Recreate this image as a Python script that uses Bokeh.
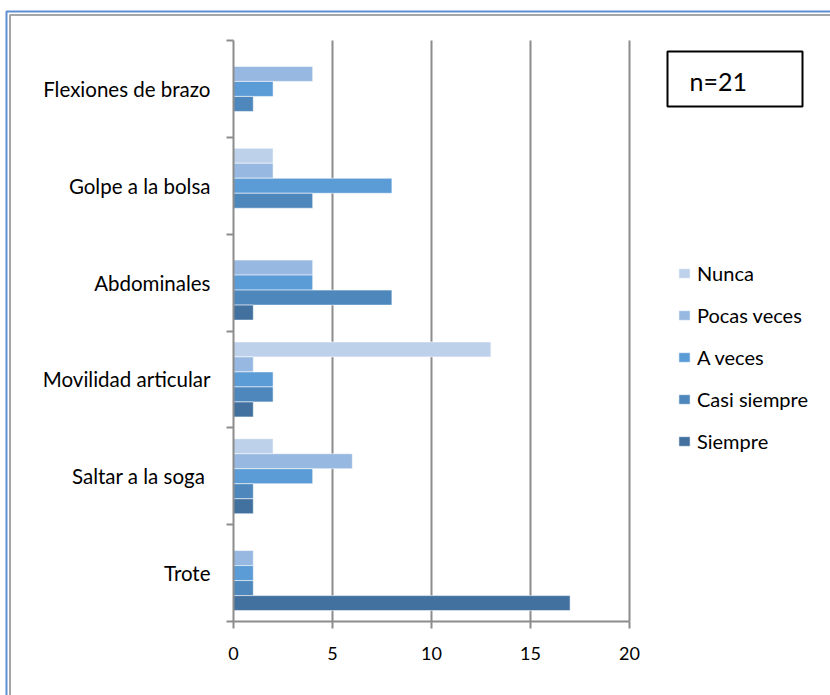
from bokeh.plotting import figure
from bokeh.models import (ColumnDataSource, Range1d, FixedTicker, Legend, LegendItem,
                          Label, BoxAnnotation)
from bokeh.embed import file_html
from bokeh.resources import INLINE

# Exercises (top to bottom) and how often each is done
categories = ["Flexiones de brazo", "Golpe a la bolsa", "Abdominales",
              "Movilidad articular", "Saltar a la soga ", "Trote"]
series = ["Nunca", "Pocas veces", "A veces", "Casi siempre", "Siempre"]
nunca = [0, 2, 0, 13, 2, 0]
pocas_veces = [4, 2, 4, 1, 6, 1]
a_veces = [2, 8, 4, 2, 4, 1]
casi_siempre = [1, 4, 8, 2, 1, 1]
siempre = [0, 0, 1, 1, 1, 17]
x_ticks = [0, 5, 10, 15, 20]
sample_note = "n=21"

values = [nunca, pocas_veces, a_veces, casi_siempre, siempre]
colors = ["#bed1eb", "#97b8e0", "#5b9bd6", "#4e87bc", "#43719f"]

FONT = "Lato"
GREY = "#8c8c8c"
W, H = 830, 695

# pixel box of the plotting area inside the canvas
AREA_L, AREA_R, AREA_T, AREA_B = 233, 629, 40, 621

n_cat = len(categories)
x_max = x_ticks[-1]
bar_h = 0.155

# the frame spans the whole canvas; ranges are chosen so that the
# value area lands on the pixel box above
px_x = (AREA_R - AREA_L) / x_max
px_y = (AREA_B - AREA_T) / n_cat
x_range = Range1d(-AREA_L / px_x, (W - AREA_L) / px_x)
y_range = Range1d(-(H - AREA_B) / px_y, n_cat + AREA_T / px_y)

p = figure(width=W, height=H, output_backend="svg", toolbar_location=None,
           x_range=x_range, y_range=y_range,
           min_border=0, min_border_left=0, min_border_right=0,
           min_border_top=0, min_border_bottom=0)
p.outline_line_color = None
p.background_fill_color = "white"
p.border_fill_color = "white"

# category centres: first category at the top
centres = [n_cat - 0.5 - i for i in range(n_cat)]

# vertical reference lines at the value ticks
p.segment(x0=x_ticks[1:], x1=x_ticks[1:], y0=[0] * 4, y1=[n_cat] * 4,
          line_color=GREY, line_width=2)

renderers = []
for j, (name, vals, col) in enumerate(zip(series, values, colors)):
    off = (2 - j) * bar_h
    ys = [c + off for c, v in zip(centres, vals) if v > 0]
    xs = [v for v in vals if v > 0]
    src = ColumnDataSource(dict(y=ys, right=xs))
    r = p.hbar(y="y", left=0, right="right", height=bar_h, source=src,
               fill_color=col, line_color="white", line_alpha=0.55, line_width=1)
    renderers.append((name, r))

# x axis, pinned at y = 0
xa = p.xaxis[0]
xa.fixed_location = 0
xa.bounds = (0, x_max)
xa.ticker = FixedTicker(ticks=x_ticks)
xa.axis_line_color = GREY
xa.axis_line_width = 2
xa.major_tick_line_color = GREY
xa.major_tick_line_width = 2
xa.major_tick_in = 0
xa.major_tick_out = 7
xa.minor_tick_line_color = None
xa.major_label_text_font = FONT
xa.major_label_text_font_size = "18px"
xa.major_label_text_color = "black"
xa.major_label_standoff = 18

# y axis, pinned at x = 0: labels at centres, tick marks between categories
ya = p.yaxis[0]
ya.fixed_location = 0
ya.bounds = (0, n_cat)
ya.ticker = FixedTicker(ticks=centres, minor_ticks=list(range(n_cat + 1)))
ya.major_label_overrides = {c: lab for c, lab in zip(centres, categories)}
ya.axis_line_color = GREY
ya.axis_line_width = 2
ya.major_tick_line_color = None
ya.minor_tick_line_color = GREY
ya.minor_tick_line_width = 2
ya.minor_tick_in = 0
ya.minor_tick_out = 7
ya.major_label_text_font = FONT
ya.major_label_text_font_size = "20.5px"
ya.major_label_text_color = "black"
ya.major_label_standoff = 16

p.xgrid.visible = False
p.ygrid.visible = False

legend = Legend(items=[LegendItem(label=n, renderers=[r]) for n, r in renderers],
                location=(677, H - 453), orientation="vertical",
                glyph_width=14, glyph_height=12, label_height=24, spacing=18,
                label_standoff=6, padding=0, margin=0,
                border_line_color=None, background_fill_alpha=0,
                label_text_font=FONT, label_text_font_size="20px",
                label_text_color="black")
p.add_layout(legend, "center")

# sample size note in a framed box
p.add_layout(BoxAnnotation(left=667, right=802, top=H - 51, bottom=H - 106,
                           left_units="screen", right_units="screen",
                           top_units="screen", bottom_units="screen",
                           fill_color="white", fill_alpha=1,
                           line_color="black", line_alpha=1, line_width=2))
p.add_layout(Label(x=689, y=H - 80, x_units="screen", y_units="screen",
                   text=sample_note, text_font=FONT, text_font_size="25px",
                   text_color="black", text_baseline="middle"))

# outer chart border (double line)
p.add_layout(BoxAnnotation(left=6, right=W + 50, top=H - 11, bottom=-50,
                           left_units="screen", right_units="screen",
                           top_units="screen", bottom_units="screen",
                           fill_alpha=0, line_color="#5f8fd2", line_alpha=1,
                           line_width=2))
p.add_layout(BoxAnnotation(left=9.5, right=W + 50, top=H - 14.5, bottom=-50,
                           left_units="screen", right_units="screen",
                           top_units="screen", bottom_units="screen",
                           fill_alpha=0, line_color="#a6a6a6", line_alpha=1,
                           line_width=2))

open("out.html", "w").write(file_html(p, INLINE))
